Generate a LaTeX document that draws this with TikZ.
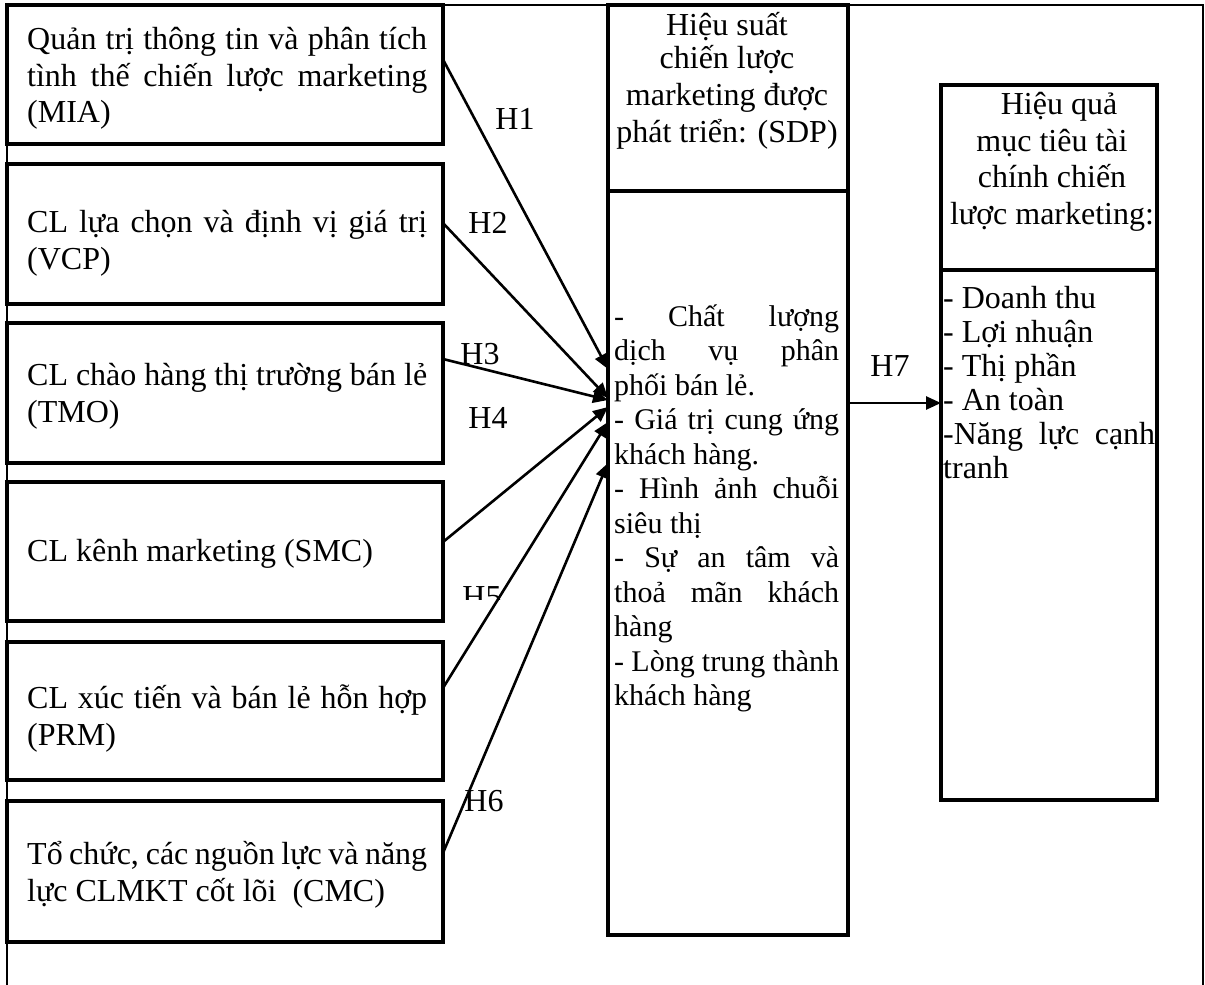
\documentclass[tikz,border=0pt]{standalone}
\usepackage{fontspec}
\setmainfont{Liberation Serif}
\usetikzlibrary{arrows.meta}
\newcommand\fA{\fontsize{32}{36.8}\selectfont\lineskiplimit=-1000pt\relax}
\newcommand\fR{\fontsize{32}{34}\selectfont\lineskiplimit=-1000pt\relax}
\newcommand\fB{\fontsize{30}{34.5}\selectfont\lineskiplimit=-1000pt\relax}
\newcommand\jL[1]{\makebox[400pt][s]{#1}}
\newcommand\jM[1]{\makebox[225pt][s]{#1}}
\newcommand\jR[1]{\makebox[212pt][s]{#1}}
\newcommand\tsA{\rule{0pt}{31pt}}
\newcommand\tsB{\rule{0pt}{29pt}}
\begin{document}
\begin{tikzpicture}[x=1pt,y=-1pt,
  box/.style={draw=black, line width=3.1pt, inner sep=0pt, outer sep=0pt, rectangle},
  txt/.style={anchor=north west, inner sep=0pt, align=left},
  ctxt/.style={anchor=north, inner sep=0pt, align=center},
  hl/.style={font=\fA, inner sep=0pt, anchor=base},
  arr/.style={line width=2.6pt, -{Triangle[length=15pt,width=13pt]}}]
\useasboundingbox (0,0) rectangle (1205,985);
\fill[white] (0,0) rectangle (1205,985);
% outer frame
\draw[line width=2.2pt] (7,985) -- (7,5) -- (1203,5) -- (1203,985);
% left boxes
\node[box, minimum width=436pt, minimum height=139pt] (mia) at (225,74.5) {};
\node[box, minimum width=436pt, minimum height=140pt] (vcp) at (225,234) {};
\node[box, minimum width=436pt, minimum height=140pt] (tmo) at (225,393) {};
\node[box, minimum width=436pt, minimum height=139pt] (smc) at (225,551.5) {};
\node[box, minimum width=436pt, minimum height=138pt] (prm) at (225,711) {};
\node[box, minimum width=436pt, minimum height=141pt] (cmc) at (225,871.5) {};
% middle box
\node[box, minimum width=240pt, minimum height=186pt] (sdpt) at (728,98) {};
\node[box, minimum width=240pt, minimum height=744pt] (sdpb) at (728,563) {};
% right box
\node[box, minimum width=216pt, minimum height=185pt] (fint) at (1049,177.5) {};
\node[box, minimum width=216pt, minimum height=530pt] (finb) at (1049,535) {};
% texts
\node[txt, font=\fA] (tmia) at (27,18) {\jL{\tsA Quản trị thông tin và phân tích}\\\jL{tình thế chiến lược marketing}\\(MIA)};
\node[txt, font=\fA] (tvcp) at (27,201) {\jL{\tsA CL lựa chọn và định vị giá trị}\\(VCP)};
\node[txt, font=\fA] (ttmo) at (27,354) {\jL{\tsA CL chào hàng thị trường bán lẻ}\\(TMO)};
\node[txt, font=\fA] (tsmc) at (27,530) {\tsA CL kênh marketing (SMC)};
\node[txt, font=\fA] (tprm) at (27,677) {\jL{\tsA CL xúc tiến và bán lẻ hỗn hợp}\\(PRM)};
\node[txt, font=\fA] (tcmc) at (27,833) {\jL{\tsA Tổ chức, các nguồn lực và năng}\\lực CLMKT cốt lõi~~(CMC)};
\node[ctxt, font=\fA] (tsdpt) at (727,4) {\tsA Hiệu suất\\[-3.5pt]chiến lược\\marketing được\\phát triển: (SDP)};
\node[txt, font=\fB] (tsdpb) at (614,297) {\jM{\tsB - Chất lượng}\\\jM{dịch vụ phân}\\phối bán lẻ.\\\jM{- Giá trị cung ứng}\\khách hàng.\\\jM{- Hình ảnh chuỗi}\\siêu thị\\\jM{- Sự an tâm và}\\\jM{thoả mãn khách}\\hàng\\\jM{- Lòng trung thành}\\khách hàng};
\node[ctxt, font=\fA] (tfint) at (1052,83) {\hspace*{14pt}\tsA Hiệu quả\\mục tiêu tài\\chính chiến\\lược marketing:};
\node[txt, font=\fR] (tfinb) at (943,277) {\tsA - Doanh thu\\- Lợi nhuận\\- Thị phần\\- An toàn\\\jR{-Năng lực cạnh}\\tranh};
% connectors
\draw[arr] ([yshift=15pt]mia.east) -- ([yshift=194pt]sdpb.west);
\draw[arr] ([yshift=11pt]vcp.east) -- ([yshift=165pt]sdpb.west);
\draw[arr] ([yshift=34pt]tmo.east) -- ([yshift=163pt]sdpb.west);
\draw[arr] ([yshift=9.5pt]smc.east) -- ([yshift=156pt]sdpb.west);
\draw[arr] ([yshift=23pt]prm.east) -- ([yshift=141pt]sdpb.west);
\draw[arr] ([yshift=18.5pt]cmc.east) -- ([yshift=100pt]sdpb.west);
\draw[arr] ([yshift=160pt]sdpb.east) -- ([yshift=132pt]finb.west);
% labels
\node[hl] (h1) at (515,129) {H1};
\node[hl] (h2) at (488,233) {H2};
\node[hl] (h3) at (480,364) {H3};
\node[hl] (h4) at (488,428) {H4};
\begin{scope}
\clip (440,560) rectangle (540,599);
\node[hl] (h5) at (482,607) {H5};
\end{scope}
\node[hl] (h6) at (484,811) {H6};
\node[hl] (h7) at (890,376) {H7};
\end{tikzpicture}
\end{document}
